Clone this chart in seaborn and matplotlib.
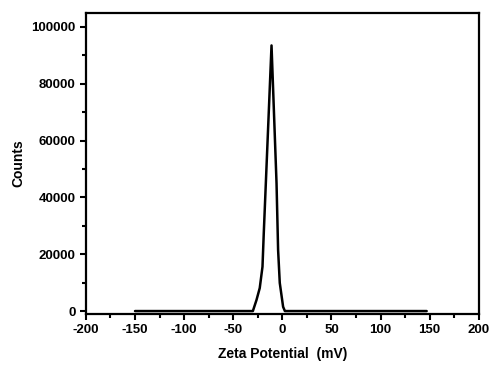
# zeta potential distribution
import numpy as np
import pandas as pd
import matplotlib
matplotlib.use("Agg")
import matplotlib.pyplot as plt
from matplotlib.ticker import MultipleLocator
import seaborn as sns

zeta_mv = [-150, -30, -26.3, -23, -20.2, -18.9, -11, -5.9, -4.3, -2.6, 0.8, 2.6, 147]
counts = [0, 0, 3900, 8100, 15600, 27400, 93500, 45000, 21500, 9900, 1500, 0, 0]

df = pd.DataFrame({"zeta": zeta_mv, "counts": counts})

sns.set_style("ticks")
plt.rcParams["font.family"] = ["Liberation Sans", "DejaVu Sans"]
plt.rcParams["font.weight"] = "bold"
plt.rcParams["axes.unicode_minus"] = False
plt.rcParams["text.color"] = "black"
plt.rcParams["axes.labelcolor"] = "black"
plt.rcParams["xtick.color"] = "black"
plt.rcParams["ytick.color"] = "black"

fig = plt.figure(figsize=(4.91, 3.65), dpi=100)
ax = fig.add_axes([0.175, 0.14, 0.8, 0.825])

sns.lineplot(data=df, x="zeta", y="counts", color="black", linewidth=1.8, ax=ax, sort=False)

ax.set_xlim(-200, 200)
ax.set_ylim(-1000, 105000)
ax.xaxis.set_major_locator(MultipleLocator(50))
ax.xaxis.set_minor_locator(MultipleLocator(25))
ax.yaxis.set_major_locator(MultipleLocator(20000))
ax.yaxis.set_minor_locator(MultipleLocator(10000))
ax.tick_params(which="both", direction="out", width=1.5, labelsize=9.5, colors="black")
ax.tick_params(which="major", length=4)
ax.tick_params(which="minor", length=3)
for lab in ax.get_xticklabels() + ax.get_yticklabels():
    lab.set_fontweight("bold")
for s in ax.spines.values():
    s.set_linewidth(1.6)
    s.set_color("black")

ax.set_xlabel("Zeta Potential  (mV)", fontsize=10, fontweight="bold", labelpad=8, color="black")
ax.set_ylabel("Counts", fontsize=10, fontweight="bold", labelpad=4, color="black")

fig.savefig("out.png", dpi=100)
